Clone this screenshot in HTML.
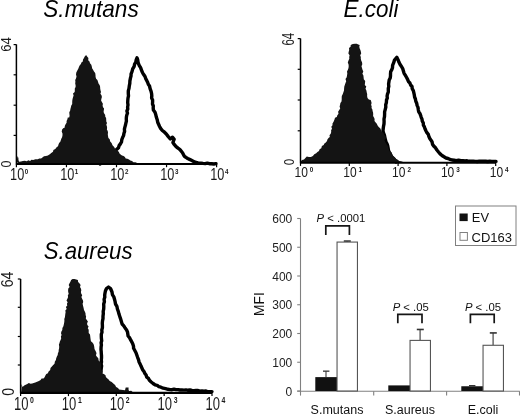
<!DOCTYPE html>
<html><head><meta charset="utf-8"><style>
html,body{margin:0;padding:0;background:#fff;overflow:hidden;}
svg{display:block;font-family:'Liberation Sans', Arial, sans-serif;}
</style></head><body>
<svg width="520" height="414" viewBox="0 0 520 414">
<rect width="520" height="414" fill="#fff"/>
<text transform="translate(43.3,16.6) scale(0.974,1)" font-size="23.2" font-style="italic" fill="#000">S.mutans</text>
<text transform="translate(343.6,16.6) scale(0.975,1)" font-size="23" font-style="italic" fill="#000">E.coli</text>
<text transform="translate(43.7,258.6) scale(0.957,1)" font-size="23.2" font-style="italic" fill="#000">S.aureus</text>
<polyline points="100.0,164.0 101.9,162.9 103.9,161.7 106.1,161.1 107.8,159.7 110.0,159.0 112.0,158.0 113.0,155.9 113.8,153.7 115.2,151.8 116.3,149.7 118.5,147.7 119.1,145.6 120.4,143.9 121.5,142.0 121.8,139.7 122.6,137.6 123.6,135.6 123.9,133.5 124.6,131.4 124.4,129.2 124.9,127.1 125.5,125.0 125.9,123.0 126.4,121.1 126.3,119.0 126.4,117.0 126.8,115.0 127.5,113.1 126.9,111.0 127.8,109.0 127.6,107.0 128.0,105.0 127.7,102.7 127.8,100.4 128.0,98.1 128.5,95.8 128.3,93.5 128.3,90.9 129.0,88.4 129.3,85.9 129.8,83.4 129.9,80.8 130.4,78.3 131.0,76.1 131.1,73.8 132.0,71.7 132.7,68.9 134.2,66.3 134.6,64.1 135.8,62.1 136.2,59.9 137.0,57.8 137.7,59.9 138.0,62.0 138.6,64.1 139.5,65.9 140.6,67.7 141.3,69.6 142.0,71.5 142.9,73.3 144.0,75.0 145.1,76.7 145.7,78.6 146.7,80.4 147.6,82.2 148.3,84.2 149.5,85.9 150.1,88.7 151.1,91.3 151.6,93.6 151.8,96.0 151.6,98.0 152.6,100.0 152.6,102.0 152.5,104.0 153.3,106.0 153.2,108.0 153.4,110.0 155.0,112.2 155.8,114.8 156.4,117.3 157.2,119.7 157.7,122.2 158.7,124.5 159.6,126.5 160.6,128.4 162.3,130.5 164.5,132.2 166.3,134.0 167.9,136.1 170.3,139.0 172.6,137.2 174.2,139.2 172.9,142.5 174.4,144.7 176.1,146.7 178.0,148.2 180.0,149.6 182.5,152.7 184.2,156.1 185.9,157.4 187.7,158.5 190.0,159.6 192.3,160.8 194.5,162.0 197.0,162.6 198.9,163.3 201.0,163.1 203.0,163.4 205.2,163.6 207.3,163.1 209.5,163.7 211.7,163.7 213.8,164.0 216.0,163.6" fill="none" stroke="#000" stroke-width="3.4" stroke-linejoin="round" stroke-linecap="round"/>
<polygon points="17.0,164.5 17.5,162.8 16.7,161.1 16.8,159.4 17.3,157.7 17.0,156.0 18.4,157.7 18.5,160.0 19.1,161.8 21.0,161.6 22.9,161.0 24.8,160.8 26.8,161.2 28.3,160.2 30.1,161.0 31.5,159.8 33.2,160.0 35.4,159.2 37.8,159.2 39.3,158.4 41.1,158.5 42.4,157.4 44.0,156.2 46.0,156.1 47.9,155.5 49.8,154.2 51.6,152.8 53.0,151.7 53.4,150.0 55.3,149.0 56.6,147.3 58.0,146.2 58.5,144.5 59.1,143.0 60.3,141.8 60.8,140.2 61.3,138.7 62.1,137.2 62.5,135.3 62.5,133.5 61.7,131.7 62.1,129.6 63.5,128.0 64.6,127.8 64.8,125.9 65.6,124.3 66.6,122.7 66.6,120.9 67.4,119.3 67.8,117.6 69.2,117.4 69.6,115.7 69.4,113.9 69.3,112.2 70.2,110.6 70.4,108.9 70.9,107.2 71.3,105.5 72.2,104.0 72.2,102.2 72.3,100.5 72.6,98.8 73.1,97.1 73.6,95.5 73.0,93.6 74.7,92.1 74.8,90.4 74.8,88.6 75.6,87.0 75.6,85.3 75.2,83.5 75.4,81.8 75.2,80.1 76.0,78.5 76.5,76.6 76.0,74.5 76.3,72.6 77.2,70.8 78.5,68.3 79.0,66.7 79.8,65.3 80.9,64.1 81.4,62.5 82.8,61.5 83.0,59.6 84.0,58.1 84.7,56.4 86.1,55.1 87.1,56.6 88.4,58.0 88.2,60.2 89.5,61.5 90.0,63.3 91.3,64.7 91.8,66.5 92.1,68.3 93.2,69.9 94.0,71.6 95.2,73.1 95.5,75.0 95.6,76.9 96.1,78.7 97.4,80.1 98.0,81.8 98.5,83.5 99.6,85.0 100.1,86.7 100.2,88.5 100.5,90.3 101.0,92.0 100.4,93.8 101.5,95.3 101.9,97.0 101.4,98.8 101.1,100.6 102.0,102.2 102.9,103.7 102.6,105.5 103.0,107.2 104.1,108.6 103.8,110.3 103.6,112.1 104.2,113.6 105.2,115.0 105.2,116.6 106.1,118.1 106.2,119.8 106.3,121.4 107.0,122.9 106.3,124.7 106.9,126.2 107.1,127.8 106.9,129.4 107.7,131.0 108.0,132.6 107.8,134.2 108.0,136.1 108.4,137.9 109.7,139.3 110.2,141.4 111.6,143.1 112.5,145.3 114.2,147.0 114.9,148.6 116.1,149.8 117.4,150.8 118.8,151.8 119.5,153.4 120.6,154.6 122.0,155.4 123.6,156.0 124.9,157.0 125.7,158.5 127.4,158.8 129.0,159.4 130.3,160.6 132.0,161.0 133.5,162.3 135.5,162.3 137.2,163.0 138.6,164.1 140.2,164.7 142.0,164.5" fill="#141414"/>
<line x1="16.4" y1="44.4" x2="16.4" y2="164.5" stroke="#000" stroke-width="1.5"/>
<line x1="16.4" y1="164.0" x2="216.6" y2="164.0" stroke="#000" stroke-width="2.1"/>
<line x1="13.599999999999998" y1="44.6" x2="16.4" y2="44.6" stroke="#000" stroke-width="1.2"/>
<line x1="13.599999999999998" y1="74.8" x2="16.4" y2="74.8" stroke="#000" stroke-width="1.2"/>
<line x1="13.599999999999998" y1="105.2" x2="16.4" y2="105.2" stroke="#000" stroke-width="1.2"/>
<line x1="13.599999999999998" y1="135.4" x2="16.4" y2="135.4" stroke="#000" stroke-width="1.2"/>
<line x1="16.4" y1="164.0" x2="16.4" y2="167.2" stroke="#000" stroke-width="1.2"/>
<text transform="translate(10.10,179.7) scale(0.8,1)" font-size="15.9" fill="#1a1a1a">10</text>
<text transform="translate(24.80,173.6) scale(0.8,1)" font-size="7.8" font-weight="bold" fill="#1a1a1a">0</text>
<line x1="66.44999999999999" y1="164.0" x2="66.44999999999999" y2="167.2" stroke="#000" stroke-width="1.2"/>
<text transform="translate(60.15,179.7) scale(0.8,1)" font-size="15.9" fill="#1a1a1a">10</text>
<text transform="translate(74.85,173.6) scale(0.8,1)" font-size="7.8" font-weight="bold" fill="#1a1a1a">1</text>
<line x1="116.5" y1="164.0" x2="116.5" y2="167.2" stroke="#000" stroke-width="1.2"/>
<text transform="translate(110.20,179.7) scale(0.8,1)" font-size="15.9" fill="#1a1a1a">10</text>
<text transform="translate(124.90,173.6) scale(0.8,1)" font-size="7.8" font-weight="bold" fill="#1a1a1a">2</text>
<line x1="166.54999999999998" y1="164.0" x2="166.54999999999998" y2="167.2" stroke="#000" stroke-width="1.2"/>
<text transform="translate(160.25,179.7) scale(0.8,1)" font-size="15.9" fill="#1a1a1a">10</text>
<text transform="translate(174.95,173.6) scale(0.8,1)" font-size="7.8" font-weight="bold" fill="#1a1a1a">3</text>
<line x1="216.6" y1="164.0" x2="216.6" y2="167.2" stroke="#000" stroke-width="1.2"/>
<text transform="translate(210.30,179.7) scale(0.8,1)" font-size="15.9" fill="#1a1a1a">10</text>
<text transform="translate(225.00,173.6) scale(0.8,1)" font-size="7.8" font-weight="bold" fill="#1a1a1a">4</text>
<text transform="translate(11.0,51.8) rotate(-90) scale(0.9,1)" font-size="14.6" fill="#1a1a1a">64</text>
<text transform="translate(10.5,167.4) rotate(-90) scale(0.88,1)" font-size="14.2" fill="#1a1a1a">0</text>
<polyline points="396.0,162.0 395.1,160.2 393.5,158.9 392.2,157.4 391.0,155.7 390.0,154.0 389.1,152.1 388.4,150.1 388.1,148.0 387.7,145.9 387.0,143.9 386.0,142.0 385.4,139.8 384.9,137.5 384.4,135.2 383.5,133.0 383.0,130.9 383.2,128.8 383.5,126.4 384.0,123.9 384.1,121.5 384.0,119.0 384.5,116.7 384.6,114.3 384.6,111.9 385.2,109.6 385.8,107.2 385.7,104.8 386.4,102.4 386.5,100.0 387.3,98.1 387.1,96.0 387.5,94.0 388.3,92.1 388.3,90.0 388.3,88.3 388.8,86.3 388.6,84.1 388.9,82.0 389.2,80.0 390.2,78.0 390.5,75.9 390.5,73.8 390.7,71.6 391.8,69.7 392.5,67.6 392.6,65.4 393.7,62.7 394.5,60.0 396.8,57.3 398.0,59.7 399.0,62.3 400.1,64.5 401.5,66.5 402.7,68.6 403.4,71.0 404.1,73.3 405.4,75.4 406.6,77.5 407.7,79.6 408.4,81.5 409.9,83.0 410.6,85.0 412.0,86.5 412.2,88.7 413.3,90.6 413.8,92.7 414.3,94.9 414.6,97.0 415.4,99.0 415.8,101.2 416.7,103.2 417.1,105.4 418.0,107.4 418.3,109.6 418.7,111.7 419.9,113.4 420.6,115.3 421.2,117.3 422.0,119.2 422.3,121.2 423.3,123.0 423.4,125.1 424.4,126.9 425.0,128.8 425.9,130.8 426.9,132.7 428.3,134.4 428.9,136.5 429.8,138.5 431.0,140.2 432.1,142.0 432.5,144.2 433.7,146.0 435.5,147.8 436.9,150.0 438.5,152.0 440.1,153.9 442.0,155.5 444.0,156.8 446.0,158.0 448.0,158.5 450.0,159.3 452.0,160.0 454.2,160.2 456.3,160.6 458.5,160.1 460.7,160.7 462.9,160.6 465.0,161.0 467.1,160.8 469.1,161.3 471.2,161.1 473.3,161.2 475.3,161.4 477.4,161.5 479.5,161.1 481.5,161.3 483.6,161.2 485.7,161.3 487.7,161.5 489.8,161.3 491.9,161.4 493.9,161.4 496.0,161.4" fill="none" stroke="#000" stroke-width="3.4" stroke-linejoin="round" stroke-linecap="round"/>
<polygon points="301.0,163.0 300.7,161.4 302.0,160.0 304.0,159.4 305.4,158.0 306.8,156.6 308.9,157.0 310.9,156.9 312.9,156.0 314.3,154.3 316.2,153.2 317.4,151.9 319.0,151.0 319.6,149.2 321.3,148.2 321.9,146.1 323.7,145.1 324.4,143.4 325.8,142.4 327.0,141.1 327.4,139.4 328.5,138.1 329.8,137.0 329.5,135.2 330.7,133.7 331.2,132.1 331.1,130.3 332.0,128.7 331.3,126.8 332.5,125.3 332.5,123.5 333.7,121.6 334.5,119.5 335.0,117.8 336.8,117.1 337.2,115.4 338.5,113.8 338.1,111.7 339.2,110.0 340.2,108.4 339.6,106.5 340.1,104.7 340.4,103.0 341.5,101.5 341.7,99.7 341.7,97.9 341.8,95.9 342.8,94.1 343.4,92.3 344.0,90.4 344.1,88.5 344.3,86.6 344.9,84.8 345.5,83.0 346.2,81.2 345.5,79.1 346.7,77.3 347.0,75.4 347.3,73.5 347.0,71.6 347.9,69.8 348.5,68.0 348.7,66.1 348.5,64.2 347.8,62.4 348.5,60.5 349.3,58.8 349.2,57.0 349.6,55.3 348.4,53.5 348.7,51.7 349.2,50.0 349.0,48.1 350.6,46.8 350.7,45.0 352.8,44.1 355.0,43.8 356.7,43.7 358.2,44.5 359.7,45.0 359.3,46.8 359.7,48.4 360.4,50.0 360.9,51.7 361.2,53.5 360.2,55.3 360.8,57.0 360.8,58.8 361.2,60.5 362.0,62.3 362.3,64.2 361.5,66.2 362.0,68.0 362.5,69.8 363.3,71.6 362.4,73.7 363.4,75.4 363.6,77.3 363.8,79.3 365.2,81.0 365.0,83.0 364.8,84.9 366.3,86.6 365.5,88.7 366.4,90.4 366.7,92.3 367.2,94.2 367.1,96.1 367.5,98.0 368.8,99.5 370.7,100.0 371.2,101.6 371.6,103.1 371.1,104.8 371.7,106.4 371.5,108.0 372.4,109.5 372.6,111.1 373.1,112.7 373.2,114.3 373.1,116.0 374.0,117.5 374.6,119.0 374.5,120.9 375.5,122.3 376.8,123.7 377.6,125.4 378.7,127.0 380.2,128.3 381.0,130.1 381.9,131.8 383.5,133.0 384.2,134.8 385.5,136.2 385.9,138.2 384.5,140.0 384.9,141.7 385.9,143.1 386.7,144.6 387.9,146.0 388.3,147.8 389.0,149.4 389.5,151.3 391.6,152.2 392.2,154.1 393.2,156.0 394.9,157.2 396.2,158.9 397.8,159.7 399.2,160.9 401.0,161.3 403.1,162.0 405.0,163.0" fill="#141414"/>
<line x1="300.5" y1="38.5" x2="300.5" y2="163.2" stroke="#000" stroke-width="1.5"/>
<line x1="300.5" y1="162.7" x2="495.7" y2="162.7" stroke="#000" stroke-width="2.1"/>
<line x1="297.7" y1="38.6" x2="300.5" y2="38.6" stroke="#000" stroke-width="1.2"/>
<line x1="297.7" y1="69.3" x2="300.5" y2="69.3" stroke="#000" stroke-width="1.2"/>
<line x1="297.7" y1="100" x2="300.5" y2="100" stroke="#000" stroke-width="1.2"/>
<line x1="297.7" y1="130.8" x2="300.5" y2="130.8" stroke="#000" stroke-width="1.2"/>
<line x1="300.5" y1="162.7" x2="300.5" y2="165.89999999999998" stroke="#000" stroke-width="1.2"/>
<text transform="translate(294.50,176.5) scale(0.86,1)" font-size="14" fill="#1a1a1a">10</text>
<text transform="translate(309.80,171.6) scale(0.86,1)" font-size="7.4" font-weight="bold" fill="#1a1a1a">0</text>
<line x1="349.3" y1="162.7" x2="349.3" y2="165.89999999999998" stroke="#000" stroke-width="1.2"/>
<text transform="translate(343.30,176.5) scale(0.86,1)" font-size="14" fill="#1a1a1a">10</text>
<text transform="translate(358.60,171.6) scale(0.86,1)" font-size="7.4" font-weight="bold" fill="#1a1a1a">1</text>
<line x1="398.1" y1="162.7" x2="398.1" y2="165.89999999999998" stroke="#000" stroke-width="1.2"/>
<text transform="translate(392.10,176.5) scale(0.86,1)" font-size="14" fill="#1a1a1a">10</text>
<text transform="translate(407.40,171.6) scale(0.86,1)" font-size="7.4" font-weight="bold" fill="#1a1a1a">2</text>
<line x1="446.9" y1="162.7" x2="446.9" y2="165.89999999999998" stroke="#000" stroke-width="1.2"/>
<text transform="translate(440.90,176.5) scale(0.86,1)" font-size="14" fill="#1a1a1a">10</text>
<text transform="translate(456.20,171.6) scale(0.86,1)" font-size="7.4" font-weight="bold" fill="#1a1a1a">3</text>
<line x1="495.7" y1="162.7" x2="495.7" y2="165.89999999999998" stroke="#000" stroke-width="1.2"/>
<text transform="translate(489.70,176.5) scale(0.86,1)" font-size="14" fill="#1a1a1a">10</text>
<text transform="translate(505.00,171.6) scale(0.86,1)" font-size="7.4" font-weight="bold" fill="#1a1a1a">4</text>
<text transform="translate(294,45.5) rotate(-90) scale(0.68,1)" font-size="16.7" fill="#1a1a1a">64</text>
<text transform="translate(293.5,165.2) rotate(-90) scale(0.8,1)" font-size="14.5" fill="#1a1a1a">0</text>
<polyline points="101.0,372.0 101.1,370.0 101.3,368.0 101.6,366.0 101.1,364.0 101.5,362.0 101.3,360.0 101.5,357.9 101.5,355.7 101.3,353.6 101.2,351.4 101.0,349.3 101.1,347.1 101.4,345.0 101.1,342.8 101.7,340.7 101.4,338.6 101.3,336.4 101.3,334.3 102.0,332.2 101.8,330.0 102.4,327.8 102.4,325.5 102.3,323.1 102.5,320.9 103.0,318.6 103.0,316.2 103.3,313.8 103.2,311.4 103.7,309.0 103.8,306.6 103.7,304.1 104.4,301.7 104.1,299.3 104.8,297.3 104.7,295.1 105.0,293.0 105.5,290.7 106.5,288.5 108.5,287.0 110.5,288.5 112.0,292.0 112.4,294.6 113.8,296.8 114.5,299.3 115.1,301.6 115.5,304.0 116.9,306.3 117.4,309.0 118.3,311.4 118.9,313.8 119.7,316.2 120.5,318.6 121.3,321.3 122.1,324.0 123.8,325.8 125.1,328.0 126.6,330.0 127.5,331.9 127.8,333.9 128.1,336.0 129.7,337.9 130.8,340.2 132.0,342.3 132.9,344.2 133.5,346.2 133.6,348.3 134.8,350.5 136.0,352.7 136.8,355.0 137.6,357.3 138.5,359.6 139.1,362.0 140.2,364.2 141.0,366.1 141.9,368.0 142.7,369.9 144.0,371.5 144.8,373.4 146.1,375.0 146.7,377.1 148.5,378.4 149.4,380.3 151.2,382.0 153.1,383.5 155.1,384.9 157.2,385.3 158.9,386.7 160.9,387.2 163.2,388.2 165.6,388.7 168.0,389.3 170.0,389.6 172.0,389.7 174.0,389.2 176.0,389.6 178.0,389.6 180.0,390.0 182.0,390.0 184.0,390.1 186.0,389.9 188.0,390.3 190.0,390.0 192.0,390.4 194.0,390.7 196.0,390.5 198.1,390.5 200.0,391.2 202.0,390.9 204.0,391.2 206.0,391.0 208.0,391.8 210.0,391.6 212.0,391.6" fill="none" stroke="#000" stroke-width="3.4" stroke-linejoin="round" stroke-linecap="round"/>
<polygon points="21.0,393.0 21.3,391.2 21.4,389.4 21.6,387.6 21.4,385.8 21.5,384.0 22.5,387.0 24.6,385.2 27.3,383.9 28.8,382.9 30.6,383.8 32.2,383.5 33.7,382.9 35.3,382.6 37.1,381.7 38.9,381.0 40.6,379.9 41.6,378.5 43.5,378.4 44.6,377.2 45.4,375.6 46.3,374.1 47.9,373.2 48.6,371.4 50.2,370.1 50.5,368.0 51.9,366.6 53.2,365.1 54.5,363.7 54.9,361.6 55.9,360.0 56.2,358.3 56.9,356.6 57.7,355.1 57.9,353.3 58.6,351.7 58.7,350.0 59.1,348.3 59.2,346.6 58.9,344.8 59.4,343.2 59.9,341.6 60.6,340.0 61.2,338.4 60.9,336.6 61.6,335.0 61.0,333.2 61.4,331.6 62.3,330.0 62.4,328.1 63.4,326.3 63.8,324.5 64.2,322.6 64.4,320.7 64.3,319.0 64.9,317.3 65.1,315.7 65.3,314.0 65.6,312.3 65.3,310.5 66.7,309.0 65.9,307.1 67.3,305.6 66.9,303.8 67.7,302.2 66.5,300.4 67.4,298.8 68.1,297.1 67.8,295.4 68.7,293.8 68.2,292.0 68.1,290.3 68.3,288.5 69.6,287.0 68.7,285.1 69.4,283.5 70.4,281.8 71.1,280.0 72.6,279.0 74.5,279.0 76.2,279.5 77.9,280.0 78.1,282.0 79.6,283.5 80.6,285.1 80.0,287.0 80.9,288.6 81.3,290.3 80.9,292.0 81.3,293.7 82.2,295.3 81.4,297.1 82.1,298.7 83.0,300.4 83.2,302.0 82.6,303.8 83.1,305.9 83.6,307.9 84.0,310.0 84.8,311.6 85.5,313.2 85.6,314.9 86.1,316.6 85.8,318.5 86.8,320.0 87.9,321.5 87.1,323.3 87.3,324.9 88.6,326.4 87.8,328.2 88.7,329.7 88.7,331.4 88.7,333.0 90.0,334.4 90.2,336.1 90.4,337.7 90.6,339.3 90.9,341.3 92.4,342.5 93.5,344.0 94.0,345.6 94.3,347.3 94.5,349.0 95.3,350.4 96.1,351.9 96.5,353.4 95.9,355.3 96.9,356.7 98.3,358.3 98.6,360.6 100.3,362.0 100.9,363.8 101.0,365.7 100.9,367.6 101.1,369.5 102.3,371.3 102.6,373.4 104.2,374.2 105.5,375.3 105.9,377.0 107.0,378.2 108.4,379.2 109.7,381.0 111.7,382.0 113.3,383.6 115.1,385.0 116.1,386.9 118.0,387.9 119.1,389.4 121.0,389.8 123.0,390.1 125.0,390.3 125.7,387.6 128.6,387.6 128.5,389.3 129.0,391.0 131.2,390.8 132.9,392.3 135.0,392.5" fill="#141414"/>
<line x1="20.6" y1="279.0" x2="20.6" y2="393.4" stroke="#000" stroke-width="1.5"/>
<line x1="20.6" y1="392.9" x2="212" y2="392.9" stroke="#000" stroke-width="2.1"/>
<line x1="17.8" y1="279.0" x2="20.6" y2="279.0" stroke="#000" stroke-width="1.2"/>
<line x1="17.8" y1="307.3" x2="20.6" y2="307.3" stroke="#000" stroke-width="1.2"/>
<line x1="17.8" y1="336.5" x2="20.6" y2="336.5" stroke="#000" stroke-width="1.2"/>
<line x1="17.8" y1="365" x2="20.6" y2="365" stroke="#000" stroke-width="1.2"/>
<line x1="20.6" y1="392.9" x2="20.6" y2="396.09999999999997" stroke="#000" stroke-width="1.2"/>
<text transform="translate(14.00,409.7) scale(0.74,1)" font-size="17.6" fill="#1a1a1a">10</text>
<text transform="translate(30.10,403) scale(0.74,1)" font-size="9.3" font-weight="bold" fill="#1a1a1a">0</text>
<line x1="68.45" y1="392.9" x2="68.45" y2="396.09999999999997" stroke="#000" stroke-width="1.2"/>
<text transform="translate(61.85,409.7) scale(0.74,1)" font-size="17.6" fill="#1a1a1a">10</text>
<text transform="translate(77.95,403) scale(0.74,1)" font-size="9.3" font-weight="bold" fill="#1a1a1a">1</text>
<line x1="116.30000000000001" y1="392.9" x2="116.30000000000001" y2="396.09999999999997" stroke="#000" stroke-width="1.2"/>
<text transform="translate(109.70,409.7) scale(0.74,1)" font-size="17.6" fill="#1a1a1a">10</text>
<text transform="translate(125.80,403) scale(0.74,1)" font-size="9.3" font-weight="bold" fill="#1a1a1a">2</text>
<line x1="164.15" y1="392.9" x2="164.15" y2="396.09999999999997" stroke="#000" stroke-width="1.2"/>
<text transform="translate(157.55,409.7) scale(0.74,1)" font-size="17.6" fill="#1a1a1a">10</text>
<text transform="translate(173.65,403) scale(0.74,1)" font-size="9.3" font-weight="bold" fill="#1a1a1a">3</text>
<line x1="212.0" y1="392.9" x2="212.0" y2="396.09999999999997" stroke="#000" stroke-width="1.2"/>
<text transform="translate(205.40,409.7) scale(0.74,1)" font-size="17.6" fill="#1a1a1a">10</text>
<text transform="translate(221.50,403) scale(0.74,1)" font-size="9.3" font-weight="bold" fill="#1a1a1a">4</text>
<text transform="translate(13.1,287.2) rotate(-90) scale(0.9,1)" font-size="15.6" fill="#1a1a1a">64</text>
<text transform="translate(14.1,395.8) rotate(-90) scale(0.9,1)" font-size="15.6" fill="#1a1a1a">0</text>
<line x1="300.5" y1="218.5" x2="300.5" y2="395.6" stroke="#808080" stroke-width="1.1"/>
<line x1="297.2" y1="391.3" x2="519.8" y2="391.3" stroke="#808080" stroke-width="1.1"/>
<line x1="297.2" y1="391.0" x2="300.5" y2="391.0" stroke="#808080" stroke-width="1.1"/>
<text x="292.3" y="395.7" font-size="12" text-anchor="end" fill="#1e1e1e">0</text>
<line x1="297.2" y1="362.25" x2="300.5" y2="362.25" stroke="#808080" stroke-width="1.1"/>
<text x="292.3" y="366.95" font-size="12" text-anchor="end" fill="#1e1e1e">100</text>
<line x1="297.2" y1="333.5" x2="300.5" y2="333.5" stroke="#808080" stroke-width="1.1"/>
<text x="292.3" y="338.2" font-size="12" text-anchor="end" fill="#1e1e1e">200</text>
<line x1="297.2" y1="304.75" x2="300.5" y2="304.75" stroke="#808080" stroke-width="1.1"/>
<text x="292.3" y="309.45" font-size="12" text-anchor="end" fill="#1e1e1e">300</text>
<line x1="297.2" y1="276.0" x2="300.5" y2="276.0" stroke="#808080" stroke-width="1.1"/>
<text x="292.3" y="280.7" font-size="12" text-anchor="end" fill="#1e1e1e">400</text>
<line x1="297.2" y1="247.25" x2="300.5" y2="247.25" stroke="#808080" stroke-width="1.1"/>
<text x="292.3" y="251.95" font-size="12" text-anchor="end" fill="#1e1e1e">500</text>
<line x1="297.2" y1="218.5" x2="300.5" y2="218.5" stroke="#808080" stroke-width="1.1"/>
<text x="292.3" y="223.2" font-size="12" text-anchor="end" fill="#1e1e1e">600</text>
<line x1="373.7" y1="391.3" x2="373.7" y2="395.5" stroke="#808080" stroke-width="1.1"/>
<line x1="446.6" y1="391.3" x2="446.6" y2="395.5" stroke="#808080" stroke-width="1.1"/>
<line x1="519.5" y1="391.3" x2="519.5" y2="395.5" stroke="#808080" stroke-width="1.1"/>
<rect x="315.3" y="377.11375" width="21.7" height="13.886249999999999" fill="#111"/>
<line x1="326" y1="371.1625" x2="326" y2="377.11375" stroke="#666" stroke-width="1.4"/>
<line x1="323" y1="371.1625" x2="329.4" y2="371.1625" stroke="#333" stroke-width="1.3"/>
<line x1="347.1" y1="241.06875000000002" x2="347.1" y2="242.07500000000002" stroke="#555" stroke-width="1.3"/>
<line x1="343.8" y1="241.06875000000002" x2="350.8" y2="241.06875000000002" stroke="#333" stroke-width="1.6"/>
<rect x="337.05" y="242.07500000000002" width="20.4" height="148.92499999999998" fill="#fff" stroke="#555555" stroke-width="1.1"/>
<text x="337" y="413.5" font-size="12.5" text-anchor="middle" fill="#111">S.mutans</text>
<rect x="388.3" y="385.39375" width="21.7" height="5.606249999999999" fill="#111"/>
<line x1="420.1" y1="329.475" x2="420.1" y2="340.4" stroke="#555" stroke-width="1.3"/>
<line x1="416.8" y1="329.475" x2="423.8" y2="329.475" stroke="#333" stroke-width="1.6"/>
<rect x="410.05" y="340.4" width="20.4" height="50.599999999999994" fill="#fff" stroke="#555555" stroke-width="1.1"/>
<text x="410" y="413.5" font-size="12.5" text-anchor="middle" fill="#111">S.aureus</text>
<rect x="461.3" y="386.25625" width="21.7" height="4.7437499999999995" fill="#111"/>
<line x1="472" y1="385.6525" x2="472" y2="386.25625" stroke="#666" stroke-width="1.4"/>
<line x1="469" y1="385.6525" x2="475.4" y2="385.6525" stroke="#333" stroke-width="1.3"/>
<line x1="493.1" y1="332.925" x2="493.1" y2="345.2875" stroke="#555" stroke-width="1.3"/>
<line x1="489.8" y1="332.925" x2="496.8" y2="332.925" stroke="#333" stroke-width="1.6"/>
<rect x="483.05" y="345.2875" width="20.4" height="45.7125" fill="#fff" stroke="#555555" stroke-width="1.1"/>
<text x="483" y="413.5" font-size="12.5" text-anchor="middle" fill="#111">E.coli</text>
<text x="316.6" y="222.1" font-size="11.3" fill="#111"><tspan font-style="italic">P</tspan> &lt; .0001</text>
<polyline points="325.8,234.9 325.8,225.8 349.4,225.8 349.4,234.9" fill="none" stroke="#151515" stroke-width="1.7"/>
<text x="392.7" y="310.6" font-size="11.3" fill="#111"><tspan font-style="italic">P</tspan> &lt; .05</text>
<polyline points="397.8,323.2 397.8,314.3 422,314.3 422,323.2" fill="none" stroke="#151515" stroke-width="1.7"/>
<text x="464.9" y="310.8" font-size="11.3" fill="#111"><tspan font-style="italic">P</tspan> &lt; .05</text>
<polyline points="470.4,323.2 470.4,314.3 494.2,314.3 494.2,323.2" fill="none" stroke="#151515" stroke-width="1.7"/>
<text transform="translate(263.9,316) rotate(-90)" font-size="13.8" fill="#111">MFI</text>
<rect x="455.5" y="206" width="60.5" height="39.5" fill="#fff" stroke="#808080" stroke-width="1"/>
<rect x="459.5" y="213.5" width="8.2" height="7.6" fill="#111"/>
<rect x="460" y="232.5" width="7.4" height="7.8" fill="#fff" stroke="#808080" stroke-width="1"/>
<text x="471.8" y="221.6" font-size="12.9" fill="#111">EV</text>
<text x="471.6" y="241.5" font-size="13" fill="#111">CD163</text>
</svg>
</body></html>
